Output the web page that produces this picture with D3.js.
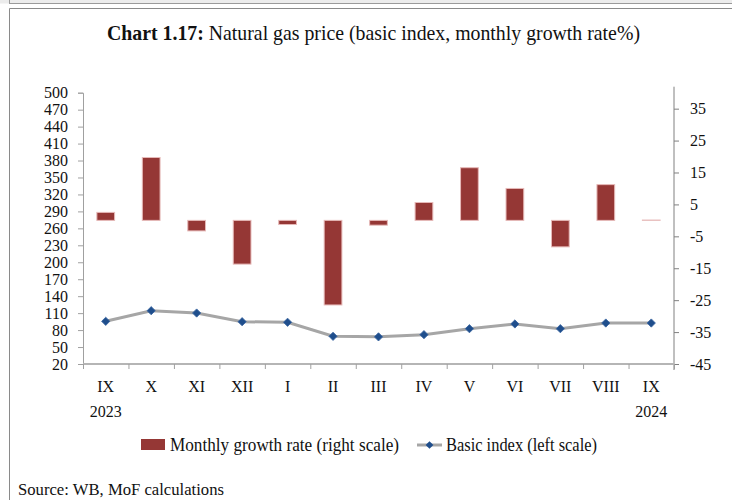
<!DOCTYPE html>
<html>
<head>
<meta charset="utf-8">
<title>Natural gas price</title>
<script src="https://cdn.jsdelivr.net/npm/d3@7"></script>
<style>
  body { margin: 0; background: #fff; }
  svg { display: block; font-family: "Liberation Serif", "Times New Roman", serif; }
</style>
</head>
<body>
<script>
  // data
  const months = ["IX", "X", "XI", "XII", "I", "II", "III", "IV", "V", "VI", "VII", "VIII", "IX"];
  const years = ["2023", "", "", "", "", "", "", "", "", "", "", "", "2024"];
  const growth = [2.5, 19.7, -3.3, -13.7, -1.3, -26.5, -1.5, 5.6, 16.5, 10.0, -8.3, 11.2, 0.1];
  const index = [95.5, 114.3, 110.2, 94.8, 93.8, 69.0, 68.0, 71.9, 82.5, 90.8, 82.5, 92.5, 92.5];
  const leftTicks = d3.range(20, 501, 30);
  const rightTicks = d3.range(-45, 36, 10);

  const width = 732, height = 500;
  const plotL = 83, plotR = 674, plotT = 92.7, plotB = 364;

  const svg = d3.select("body").append("svg")
    .attr("width", width).attr("height", height);

  // frame
  svg.append("rect").attr("x", 0).attr("y", 0).attr("width", width).attr("height", 3.5).attr("fill", "#ececec");
  svg.append("line").attr("x1", 9.5).attr("x2", width).attr("y1", 3.5).attr("y2", 3.5).attr("stroke", "#9a9a9a");
  svg.append("line").attr("x1", 9.5).attr("x2", 9.5).attr("y1", 0).attr("y2", 4).attr("stroke", "#9a9a9a");
  svg.append("line").attr("x1", 9.5).attr("x2", width).attr("y1", 8.5).attr("y2", 8.5).attr("stroke", "#8a8a8a");
  svg.append("line").attr("x1", 9.5).attr("x2", 9.5).attr("y1", 8.5).attr("y2", height).attr("stroke", "#8a8a8a");

  // title
  const title = svg.append("text")
    .attr("x", 107).attr("y", 40)
    .attr("font-size", 21).attr("fill", "#111")
    .attr("textLength", 533).attr("lengthAdjust", "spacingAndGlyphs");
  title.append("tspan").attr("font-weight", "bold").text("Chart 1.17:");
  title.append("tspan").text(" Natural gas price (basic index, monthly growth rate%)");

  const x = d3.scaleBand().domain(d3.range(months.length)).range([plotL, plotR]);
  const xEdge = d3.scaleLinear().domain([0, months.length]).range([plotL, plotR]);
  const yL = d3.scaleLinear().domain([20, 500]).range([plotB, plotT]);
  const yR = d3.scaleLinear().domain([-45, 40]).range([plotB, plotT]);

  // bars
  const bw = x.bandwidth() * 0.39;
  svg.append("g").selectAll("rect")
    .data(growth)
    .join("rect")
    .attr("x", (d, i) => x(i) + (x.bandwidth() - bw) / 2)
    .attr("y", d => yR(Math.max(0, d)))
    .attr("width", bw)
    .attr("height", d => Math.abs(yR(d) - yR(0)))
    .attr("fill", (d, i) => i === growth.length - 1 ? "none" : "#953735")
    .attr("stroke", "#e6b9b8")
    .attr("stroke-width", 1);

  // left axis
  const gl = svg.append("g").attr("transform", `translate(${plotL},0)`)
    .call(d3.axisLeft(yL).tickValues(leftTicks).tickSize(5).tickPadding(10).tickFormat(d => String(d)));
  gl.select(".domain").attr("stroke", "#a0a0a0");
  gl.selectAll(".tick line").attr("stroke", "#a0a0a0");
  gl.selectAll(".tick text").attr("font-size", 16).attr("fill", "#111").attr("font-family", "Liberation Serif");

  // right axis
  const gr = svg.append("g").attr("transform", `translate(${plotR},0)`)
    .call(d3.axisRight(yR).tickValues(rightTicks).tickSize(5).tickPadding(11).tickFormat(d => String(d)));
  gr.select(".domain").attr("stroke", "#808080").attr("d", `M0,${plotT - 6}V${plotB + 6}`);
  gr.selectAll(".tick line").attr("stroke", "#808080");
  gr.selectAll(".tick text").attr("font-size", 16).attr("fill", "#111").attr("font-family", "Liberation Serif");

  // bottom axis: tick marks at band edges
  const gb = svg.append("g").attr("transform", `translate(0,${plotB})`)
    .call(d3.axisBottom(xEdge).ticks(months.length).tickSize(5).tickFormat(""));
  gb.select(".domain").attr("stroke", "#b5b5b5").attr("stroke-width", 2).attr("d", `M${plotL},0H${plotR}`);
  gb.selectAll(".tick line").attr("stroke", "#a0a0a0");

  // bottom labels
  const gx = svg.append("g").attr("transform", `translate(0,${plotB})`)
    .call(d3.axisBottom(x).tickSize(0).tickPadding(0).tickFormat(""));
  gx.select(".domain").remove();
  gx.selectAll(".tick").each(function (d) {
    const t = d3.select(this).append("text")
      .attr("text-anchor", "middle").attr("font-size", 16).attr("fill", "#111")
      .attr("font-family", "Liberation Serif");
    t.append("tspan").attr("x", 0).attr("y", 28).text(months[d]);
    if (years[d]) t.append("tspan").attr("x", 0).attr("y", 53).text(years[d]);
  });

  // line
  const line = d3.line().x((d, i) => x(i) + x.bandwidth() / 2).y(d => yL(d));
  svg.append("path").datum(index)
    .attr("d", line)
    .attr("fill", "none").attr("stroke", "#a6a6a6").attr("stroke-width", 3);
  svg.append("g").selectAll("path")
    .data(index)
    .join("path")
    .attr("d", d3.symbol(d3.symbolSquare, 34))
    .attr("transform", (d, i) => `translate(${x(i) + x.bandwidth() / 2},${yL(d)}) rotate(45)`)
    .attr("fill", "#1f4e8c").attr("stroke", "#3a66a0").attr("stroke-width", 0.8);

  // legend
  const lg = svg.append("g");
  lg.append("rect").attr("x", 141).attr("y", 439).attr("width", 24).attr("height", 11).attr("fill", "#953735");
  lg.append("text").attr("x", 170).attr("y", 451).attr("font-size", 19).attr("fill", "#111")
    .attr("textLength", 229).attr("lengthAdjust", "spacingAndGlyphs")
    .text("Monthly growth rate (right scale)");
  lg.append("line").attr("x1", 417).attr("x2", 442).attr("y1", 445).attr("y2", 445)
    .attr("stroke", "#a6a6a6").attr("stroke-width", 3);
  lg.append("path").attr("d", d3.symbol(d3.symbolSquare, 30))
    .attr("transform", "translate(429.5,445) rotate(45)").attr("fill", "#1f4e8c");
  lg.append("text").attr("x", 446).attr("y", 451).attr("font-size", 19).attr("fill", "#111")
    .attr("textLength", 151).attr("lengthAdjust", "spacingAndGlyphs")
    .text("Basic index (left scale)");

  // source
  svg.append("text").attr("x", 18).attr("y", 495).attr("font-size", 17).attr("fill", "#111")
    .attr("textLength", 206).attr("lengthAdjust", "spacingAndGlyphs")
    .text("Source: WB, MoF calculations");
</script>
</body>
</html>
